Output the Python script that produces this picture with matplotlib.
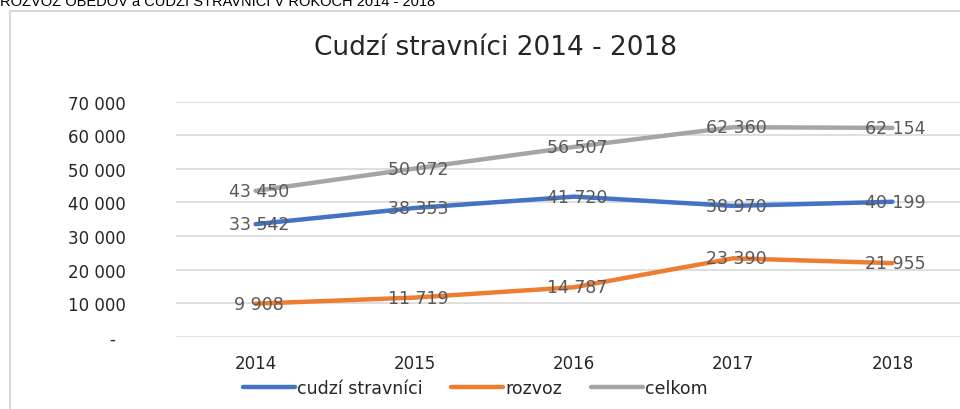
import matplotlib
matplotlib.use("Agg")
import matplotlib.pyplot as plt
from matplotlib.patches import Rectangle
from matplotlib.lines import Line2D

years = ["2014", "2015", "2016", "2017", "2018"]
cudzi = [33542, 38353, 41720, 38970, 40199]
rozvoz = [9908, 11719, 14787, 23390, 21955]
celkom = [43450, 50072, 56507, 62360, 62154]
series_names = ["cudzí stravníci", "rozvoz", "celkom"]
colors = ["#4472C4", "#ED7D31", "#A5A5A5"]
yticks = [0, 10000, 20000, 30000, 40000, 50000, 60000, 70000]

W, H = 960, 410
fig = plt.figure(figsize=(W / 100, H / 100), dpi=100)
FONT = "DejaVu Sans"

# chart border (extends beyond the visible image)
fig.patches.append(Rectangle((10 / W, -0.1), 1.2, (H - 12) / H + 0.1,
                             transform=fig.transFigure, fill=False,
                             edgecolor="#D9D9D9", linewidth=1.5))

# cut-off heading above the chart
fig.text(0 / W, 1 - 6 / H, "ROZVOZ OBEDOV a CUDZÍ STRAVNÍCI V ROKOCH 2014 - 2018",
         ha="left", va="baseline", fontsize=10.5, family="Liberation Sans",
         color="black")

left, right = 176, 972
top, bottom = 102.5, 338
ax = fig.add_axes([left / W, 1 - bottom / H, (right - left) / W, (bottom - top) / H])
x = list(range(len(years)))
for vals, c in zip([cudzi, rozvoz, celkom], colors):
    ax.plot(x, vals, color=c, linewidth=3.2, solid_capstyle="round", zorder=3)
    for xi, v in zip(x, vals):
        ax.text(xi + 0.02, v, f"{v:,}".replace(",", " "), ha="center", va="center",
                fontsize=12.5, color="#595959", family=FONT, zorder=4)

ax.set_xlim(-0.5, len(years) - 0.5)
ax.set_ylim(0, 70000)
ax.set_yticks(yticks)
ax.set_yticklabels([("-  " if t == 0 else f"{t:,}".replace(",", " ")) for t in yticks],
                   family=FONT, fontsize=12, color="#262626")
ax.set_xticks(x)
ax.set_xticklabels(years, family=FONT, fontsize=12, color="#262626")
ax.tick_params(axis="y", length=0, pad=36)
ax.tick_params(axis="x", length=0, pad=12)
ax.grid(axis="y", color="#D9D9D9", linewidth=1.2)
ax.set_axisbelow(True)
for s in ax.spines.values():
    s.set_visible(False)
ax.patch.set_alpha(0)

fig.text(495 / W, 1 - 48 / H, "Cudzí stravníci 2014 - 2018", ha="center", va="center",
         fontsize=19, family=FONT, color="#262626")

handles = [Line2D([], [], color=c, linewidth=3.2, solid_capstyle="round") for c in colors]
fig.legend(handles, series_names, loc="center", bbox_to_anchor=(475 / W, 1 - 389 / H),
           ncol=3, frameon=False, prop={"family": FONT, "size": 12.5},
           handlelength=3.0, handletextpad=0.1, columnspacing=1.67,
           labelcolor="#262626")

fig.savefig("out.png", dpi=100)
